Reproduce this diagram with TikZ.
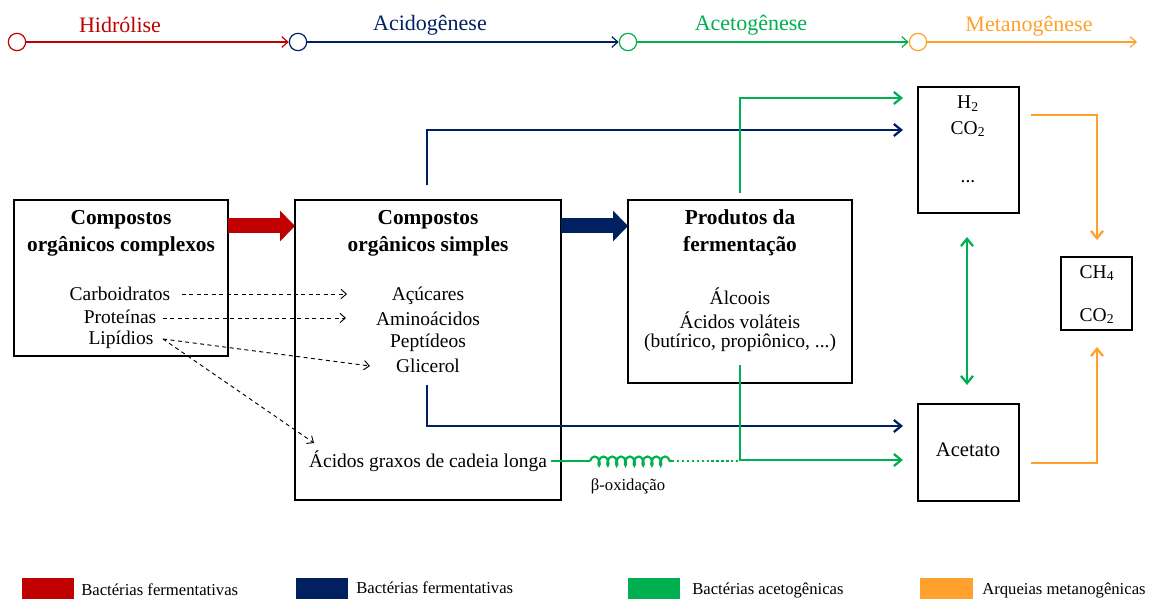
\documentclass[tikz,border=0pt]{standalone}
\usepackage{fontspec}
\setmainfont{Liberation Serif}
\usetikzlibrary{arrows.meta,decorations.pathmorphing,fit}
\definecolor{cred}{HTML}{C00000}
\definecolor{cblue}{HTML}{002060}
\definecolor{cgreen}{HTML}{00B050}
\definecolor{corange}{HTML}{FFA12C}
\begin{document}
\begin{tikzpicture}[x=0.75pt,y=-0.75pt,
  box/.style={draw=black, line width=0.9pt, inner sep=0pt, outer sep=0pt},
  body/.style={font=\fontsize{14.6}{17}\selectfont, inner sep=0pt, align=center},
  ttl/.style={font=\fontsize{16}{20}\selectfont\bfseries, inner sep=0pt, align=center},
  hdr/.style={font=\fontsize{16.5}{20}\selectfont, inner sep=0pt},
  leg/.style={font=\fontsize{12.5}{15}\selectfont, inner sep=0pt, anchor=west},
  stage/.style={circle, draw=#1, line width=0.9pt, minimum size=13pt, inner sep=0pt, fill=white},
  tl/.style={#1, line width=0.9pt, -{Straight Barb[length=4.5pt,width=8pt]}},
  conn/.style={#1, line width=1.7pt, -{Straight Barb[length=5.5pt,width=9pt]}},
  dsh/.style={black, line width=0.7pt, dash pattern=on 3pt off 2.6pt, -{Straight Barb[length=4pt,width=7pt]}},
  fat/.style={#1, line width=11.25pt, -{Triangle[length=11.25pt,width=22.5pt]}}
]
\useasboundingbox (0,0) rectangle (1154,599);

% timeline
\node[stage=cred] (s1) at (17,42) {};
\node[stage=cblue] (s2) at (298,42) {};
\node[stage=cgreen] (s3) at (628,42) {};
\node[stage=corange] (s4) at (918,42) {};
\coordinate (s5) at (1137,42);
\draw[tl=cred] (s1) -- (s2.west);
\draw[tl=cblue] (s2) -- (s3.west);
\draw[tl=cgreen] (s3) -- (s4.west);
\draw[tl=corange] (s4) -- (s5);
\node[hdr, text=cred] (h1) at (120,25) {Hidrólise};
\node[hdr, text=cblue] (h2) at (430,25) {Acidogênese};
\node[hdr, text=cgreen] (h3) at (751,25) {Acetogênese};
\node[hdr, text=corange] (h4) at (1029,26) {Metanogênese};

% boxes
\node[box, fit={(14,200) (228,356)}] (b1) {};
\node[box, fit={(295,200) (561,500)}] (b2) {};
\node[box, fit={(628,200) (852,383)}] (b3) {};
\node[box, fit={(918,87) (1019,213)}] (b4) {};
\node[box, fit={(918,404) (1019,501)}] (b5) {};
\node[box, fit={(1061,257) (1132,330)}] (b6) {};

% box 1 text
\node[ttl] (t1) at (121,233) {Compostos\\orgânicos complexos};
\node[body] (carb) at (120,294) {Carboidratos};
\node[body] (prot) at (120,317) {Proteínas};
\node[body] (lipi) at (121,340) {Lipídios};

% box 2 text
\node[ttl] (t2) at (428,233) {Compostos\\orgânicos simples};
\node[body] (acuc) at (428,296) {Açúcares};
\node[body] (amin) at (428,319) {Aminoácidos};
\node[body] (pept) at (428,343) {Peptídeos};
\node[body] (glic) at (428,366) {Glicerol};
\node[body] (agcl) at (428,461) {Ácidos graxos de cadeia longa};

% box 3 text
\node[ttl] (t3) at (740,233) {Produtos da\\fermentação};
\node[body] (alc) at (740,296) {Álcoois};
\node[body] (avol) at (740,320) {Ácidos voláteis};
\node[body] (butp) at (740,343) {(butírico, propiônico, ...)};

% box 4,5,6 text
\node[body] (h2) at (968,104) {H\textsubscript{2}};
\node[body] (co2a) at (968,129) {CO\textsubscript{2}};
\node[body] (dots) at (968,182) {...};
\node[body, font=\fontsize{15.5}{18}\selectfont] (acet) at (968,450) {Acetato};
\node[body] (ch4) at (1097,273) {CH\textsubscript{4}};
\node[body] (co2b) at (1097,316) {CO\textsubscript{2}};

% fat arrows
\coordinate (r0) at (228,226);
\coordinate (r1) at (295,226);
\coordinate (u0) at (561,226);
\coordinate (u1) at (628,226);
\draw[fat=cred] (r0) -- (r1);
\draw[fat=cblue] (u0) -- (u1);

% dashed arrows
\coordinate (dc0) at (182,294);
\coordinate (dc1) at (347,294);
\coordinate (dp0) at (163,318);
\coordinate (dp1) at (346,318);
\coordinate (dl0) at (163,339);
\coordinate (dl1) at (370,366);
\coordinate (dl2) at (314,443);
\draw[dsh] (dc0) -- (dc1);
\draw[dsh] (dp0) -- (dp1);
\draw[dsh] (dl0) -- (dl1);
\draw[dsh] (dl0) -- (dl2);

% blue connectors
\coordinate (ba0) at (427,185);
\coordinate (ba1) at (903,130);
\coordinate (bb0) at (427,385);
\coordinate (bb1) at (903,426);
\draw[conn=cblue] (ba0) |- (ba1);
\draw[conn=cblue] (bb0) |- (bb1);

% green connectors
\coordinate (ga0) at (740,193);
\coordinate (ga1) at (903,98);
\coordinate (gb0) at (740,365);
\coordinate (gb1) at (903,460);
\draw[conn=cgreen] (ga0) |- (ga1);
\draw[conn=cgreen] (gb0) |- (gb1);
\coordinate (gd0) at (967,237);
\coordinate (gd1) at (967,385);
\draw[conn=cgreen, {Straight Barb[length=5.5pt,width=9pt]}-{Straight Barb[length=5.5pt,width=9pt]}] (gd0) -- (gd1);

% beta-oxidation
\coordinate (bo1) at (590,461);
\coordinate (bo2) at (672,461);
\coordinate (bo3) at (740,461);
\draw[cgreen, line width=1.7pt] (agcl.east) ++(4,0) -- (bo1);
\draw[cgreen, line width=1.6pt, decorate, decoration={coil, amplitude=3.4pt, segment length=6.6pt, aspect=0.55}] (bo1) -- (bo2);
\draw[cgreen, line width=1.7pt, dotted] (bo2) -- (bo3);
\node[body, font=\fontsize{12.5}{15}\selectfont] (box) at (628,486) {β-oxidação};

% orange connectors
\coordinate (oa0) at (1031,115);
\coordinate (oa1) at (1097,240);
\coordinate (ob0) at (1031,463);
\coordinate (ob1) at (1097,347);
\draw[conn=corange] (oa0) -| (oa1);
\draw[conn=corange] (ob0) -| (ob1);

% legend
\fill[cred] (22,578) rectangle (74,599);
\fill[cblue] (296,578) rectangle (348,599);
\fill[cgreen] (628,578) rectangle (680,599);
\fill[corange] (920,578) rectangle (973,599);
\node[leg] (l1) at (81,590) {Bactérias fermentativas};
\node[leg] (l2) at (356,588) {Bactérias fermentativas};
\node[leg] (l3) at (692,590) {Bactérias acetogênicas};
\node[leg] (l4) at (982,590) {Arqueias metanogênicas};
\end{tikzpicture}
\end{document}
